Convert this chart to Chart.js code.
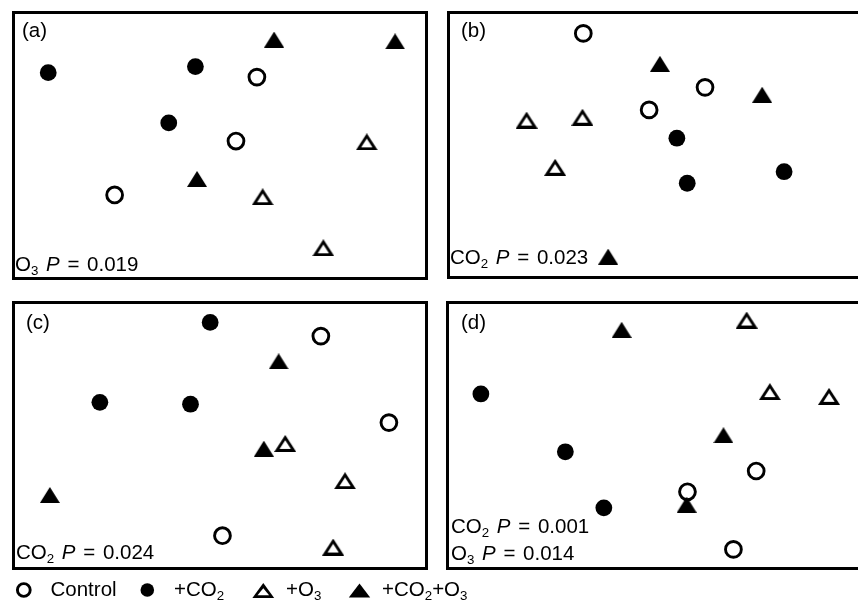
<!DOCTYPE html>
<html>
<head>
<meta charset="utf-8">
<script src="https://cdn.jsdelivr.net/npm/chart.js@4.4.1/dist/chart.umd.min.js"></script>
<style>
  body {
    margin: 0; background: #fff; width: 858px; height: 602px;
    overflow: hidden; position: relative; color: #000;
    font-family: "Liberation Sans", Arial, Helvetica, sans-serif;
  }
  .panel { position: absolute; box-sizing: border-box; border: 3px solid #000; }
  .panel canvas { position: absolute; left: 0; top: 0; }
  .tag { position: absolute; font-size: 20.5px; line-height: 20px; }
  .stat { position: absolute; font-size: 20.5px; line-height: 20px; word-spacing: 2px; white-space: nowrap; }
  .sub { font-size: 0.65em; position: relative; top: 0.3em; }
  .leg { position: absolute; top: 579px; font-size: 20.5px; line-height: 20px; white-space: nowrap; }
  #legend-marks { position: absolute; left: 0; top: 575px; }
</style>
</head>
<body>

<div class="panel" style="left:12px;top:11px;width:416px;height:269px">
  <canvas id="chart-a" width="410" height="263"></canvas>
  <div class="tag" style="left:7px;top:6px">(a)</div>
  <div class="stat" style="left:0;bottom:0">O<span class="sub">3</span> <i>P</i> = 0.019</div>
</div>

<div class="panel" style="left:447px;top:11px;width:420px;height:268px">
  <canvas id="chart-b" width="414" height="262"></canvas>
  <div class="tag" style="left:11px;top:6px">(b)</div>
  <div class="stat" style="left:0;bottom:6px">CO<span class="sub">2</span> <i>P</i> = 0.023</div>
</div>

<div class="panel" style="left:12px;top:301px;width:416px;height:269px">
  <canvas id="chart-c" width="410" height="263"></canvas>
  <div class="tag" style="left:11px;top:8px">(c)</div>
  <div class="stat" style="left:1px;bottom:2px">CO<span class="sub">2</span> <i>P</i> = 0.024</div>
</div>

<div class="panel" style="left:446px;top:301px;width:420px;height:269px">
  <canvas id="chart-d" width="414" height="263"></canvas>
  <div class="tag" style="left:12px;top:8px">(d)</div>
  <div class="stat" style="left:2px;bottom:28px">CO<span class="sub">2</span> <i>P</i> = 0.001</div>
  <div class="stat" style="left:2px;bottom:1px">O<span class="sub">3</span> <i>P</i> = 0.014</div>
</div>

<svg id="legend-marks" width="400" height="27">
  <circle cx="23.8" cy="15" r="6.4" fill="#fff" stroke="#000" stroke-width="2.9"/>
  <circle cx="147.3" cy="15" r="6.8" fill="#000"/>
  <polygon points="263.3,8 252.4,23 274.2,23" fill="#000"/>
  <polygon points="263.3,13.2 257.5,20.2 269.1,20.2" fill="#fff"/>
  <polygon points="359.5,8.5 348.8,22.5 370.2,22.5" fill="#000"/>
</svg>
<div class="leg" style="left:50.5px">Control</div>
<div class="leg" style="left:174px">+CO<span class="sub">2</span></div>
<div class="leg" style="left:286px">+O<span class="sub">3</span></div>
<div class="leg" style="left:382px">+CO<span class="sub">2</span>+O<span class="sub">3</span></div>

<script>
// Treatment groups (legend order)
const TREATMENTS = ["Control", "+CO2", "+O3", "+CO2+O3"];

// Ordination scores, scaled 0-100 (x to the right, y up)
// (a)
const controlA = [[59.0, 76.0], [53.9, 51.7], [24.3, 31.2]];
const co2A     = [[8.1, 77.7], [44.0, 80.0], [37.5, 58.6]];
const o3A      = [[85.8, 51.4], [60.4, 30.5], [75.2, 11.1]];
const bothA    = [[63.2, 90.3], [92.7, 89.6], [44.4, 37.3]];
// (b)
const controlB = [[32.2, 92.6], [61.6, 72.0], [48.1, 63.4]];
const co2B     = [[54.8, 52.6], [80.7, 39.8], [57.3, 35.4]];
const o3B      = [[18.5, 59.5], [32.0, 60.6], [25.4, 41.5]];
const bothB    = [[50.7, 81.0], [75.4, 69.2], [38.2, 7.4]];
// (c)
const controlC = [[74.6, 87.8], [91.2, 54.9], [50.6, 11.9]];
const co2C     = [[47.6, 93.0], [20.7, 62.6], [42.8, 61.9]];
const o3C      = [[65.9, 47.0], [80.5, 32.8], [77.6, 7.6]];
const bothC    = [[64.3, 78.2], [60.7, 45.0], [8.5, 27.4]];
// (d)
const controlD = [[74.2, 36.5], [57.6, 28.6], [68.7, 6.7]];
const co2D     = [[7.7, 65.8], [28.1, 43.8], [37.4, 22.5]];
const o3D      = [[71.9, 93.9], [77.5, 66.7], [91.8, 64.9]];
const bothD    = [[41.7, 90.2], [66.3, 50.1], [57.4, 23.7]];

// triangles in the figure are wider than equilateral, so draw them as sprites
function triangleSprite(w, h, filled, lw) {
  const c = document.createElement("canvas");
  c.width = w; c.height = h;
  const g = c.getContext("2d");
  g.fillStyle = "#000";
  g.beginPath();
  g.moveTo(w / 2, 0); g.lineTo(0, h); g.lineTo(w, h);
  g.closePath(); g.fill();
  if (!filled) {
    // inset the outline by lw to leave a hollow triangle
    const half = Math.atan((w / 2) / h);
    const apex = lw / Math.sin(half);
    const yb = h - lw;
    const dx = (yb - apex) * (w / 2) / h;
    g.fillStyle = "#fff";
    g.beginPath();
    g.moveTo(w / 2, apex); g.lineTo(w / 2 - dx, yb); g.lineTo(w / 2 + dx, yb);
    g.closePath(); g.fill();
  }
  return c;
}

const openTri = triangleSprite(22, 17, false, 2.9);
const fullTri = triangleSprite(20, 16, true, 0);

const STYLES = [
  { pointStyle: "circle", pointRadius: 7.9, backgroundColor: "#fff", borderColor: "#000", borderWidth: 2.9, order: 4 },
  { pointStyle: "circle", pointRadius: 8.4, backgroundColor: "#000", borderColor: "#000", borderWidth: 0, order: 3 },
  { pointStyle: openTri, pointRadius: 8, backgroundColor: "#000", borderWidth: 0, order: 2 },
  { pointStyle: fullTri, pointRadius: 8, backgroundColor: "#000", borderWidth: 0, order: 1 },
];

function drawPanel(id, groups) {
  new Chart(document.getElementById(id), {
    type: "scatter",
    data: {
      datasets: groups.map((pts, i) => ({
        label: TREATMENTS[i],
        data: pts.map(p => ({ x: p[0], y: p[1] })),
        pointHoverRadius: STYLES[i].pointRadius,
        clip: false,
        ...STYLES[i],
      })),
    },
    options: {
      responsive: false,
      animation: false,
      events: [],
      layout: { padding: 0, autoPadding: false },
      plugins: { legend: { display: false }, tooltip: { enabled: false } },
      scales: {
        x: { display: false, min: 0, max: 100 },
        y: { display: false, min: 0, max: 100 },
      },
    },
  });
}

drawPanel("chart-a", [controlA, co2A, o3A, bothA]);
drawPanel("chart-b", [controlB, co2B, o3B, bothB]);
drawPanel("chart-c", [controlC, co2C, o3C, bothC]);
drawPanel("chart-d", [controlD, co2D, o3D, bothD]);
</script>
</body>
</html>
